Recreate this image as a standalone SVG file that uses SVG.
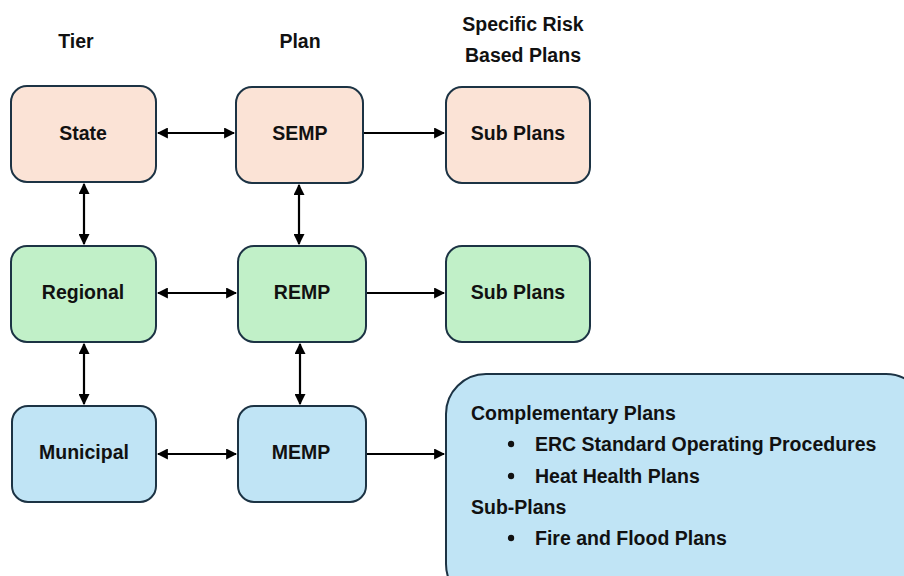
<svg xmlns="http://www.w3.org/2000/svg" width="904" height="576" viewBox="0 0 904 576">
<defs>
<marker id="ah" viewBox="0 0 10 10" refX="9" refY="5" markerWidth="5" markerHeight="5" orient="auto-start-reverse">
<path d="M0,0 L10,5 L0,10 z" fill="#000"/>
</marker>
<style>
.t{font-family:"Liberation Sans",Arial,sans-serif;font-weight:bold;font-size:19.5px;fill:#111}
.c{text-anchor:middle}
.n{stroke:#1c3344;stroke-width:2}
.p{fill:#FBE3D6}.g{fill:#C1F0C8}.b{fill:#C0E4F5}
.a{stroke:#000;stroke-width:2.2;fill:none;marker-end:url(#ah)}
.d{marker-start:url(#ah)}
</style>
</defs>
<rect width="904" height="576" fill="#fff"/>
<g id="headers">
<text class="t c" x="76" y="48">Tier</text>
<text class="t c" x="300" y="48">Plan</text>
<text class="t c" x="523" y="31">Specific Risk</text>
<text class="t c" x="523" y="62">Based Plans</text>
</g>
<g id="state"><rect class="n p" x="11" y="86" width="145" height="96" rx="16"/><text class="t c" x="83" y="140">State</text></g>
<g id="semp"><rect class="n p" x="236" y="87" width="127" height="96" rx="16"/><text class="t c" x="300" y="140">SEMP</text></g>
<g id="sub1"><rect class="n p" x="446" y="87" width="144" height="96" rx="16"/><text class="t c" x="518" y="140">Sub Plans</text></g>
<g id="regional"><rect class="n g" x="11" y="246" width="145" height="96" rx="16"/><text class="t c" x="83" y="299">Regional</text></g>
<g id="remp"><rect class="n g" x="238" y="246" width="128" height="96" rx="16"/><text class="t c" x="302" y="299">REMP</text></g>
<g id="sub2"><rect class="n g" x="446" y="246" width="144" height="96" rx="16"/><text class="t c" x="518" y="299">Sub Plans</text></g>
<g id="municipal"><rect class="n b" x="12" y="406" width="144" height="96" rx="16"/><text class="t c" x="84" y="459">Municipal</text></g>
<g id="memp"><rect class="n b" x="238" y="406" width="128" height="96" rx="16"/><text class="t c" x="301" y="459">MEMP</text></g>
<g id="bigbox">
<rect class="n b" x="446" y="374" width="480" height="230" rx="40"/>
<text class="t" x="471" y="420">Complementary Plans</text>
<circle cx="511" cy="444" r="3.2" fill="#111"/>
<text class="t" x="535" y="451">ERC Standard Operating Procedures</text>
<circle cx="511" cy="476" r="3.2" fill="#111"/>
<text class="t" x="535" y="483">Heat Health Plans</text>
<text class="t" x="471" y="514">Sub-Plans</text>
<circle cx="511" cy="538" r="3.2" fill="#111"/>
<text class="t" x="535" y="545">Fire and Flood Plans</text>
</g>
<g id="connectors">
<line class="a d" x1="158" y1="133" x2="234" y2="133"/>
<line class="a" x1="364" y1="133" x2="444" y2="133"/>
<line class="a d" x1="84" y1="184" x2="84" y2="244"/>
<line class="a d" x1="299" y1="185" x2="299" y2="244"/>
<line class="a d" x1="158" y1="293" x2="236" y2="293"/>
<line class="a" x1="367" y1="293" x2="444" y2="293"/>
<line class="a d" x1="84" y1="344" x2="84" y2="404"/>
<line class="a d" x1="300" y1="344" x2="300" y2="404"/>
<line class="a d" x1="158" y1="454" x2="236" y2="454"/>
<line class="a" x1="367" y1="454" x2="444" y2="454"/>
</g>
</svg>
